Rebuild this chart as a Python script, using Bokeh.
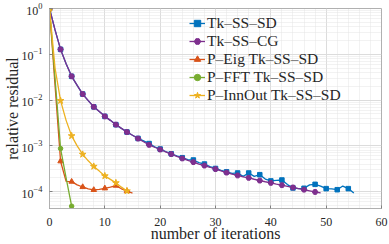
from bokeh.plotting import figure
from bokeh.models import (Range1d, FixedTicker, SingleIntervalTicker, LogTickFormatter,
                          Legend, LegendItem)
from bokeh.embed import file_html
from bokeh.resources import INLINE

# ---- data ----
it_sd = list(range(0, 56))
res_sd = [1, 0.34, 0.128, 0.062, 0.033, 0.021, 0.0135, 0.0097, 0.0071, 0.0056,
          0.0044, 0.0036, 0.0029, 0.0024, 0.0020, 0.0017, 0.00145, 0.00128, 0.00112, 0.00095,
          0.00085, 0.00075, 0.00067, 0.0006, 0.00055, 0.0005, 0.00049, 0.00043, 0.0004, 0.00035,
          0.00032, 0.00029, 0.00027, 0.00025, 0.000255, 0.000215, 0.000255, 0.000215, 0.000234, 0.000188,
          0.000171, 0.000176, 0.000179, 0.000142, 0.00012, 0.000116, 0.000118, 0.00014, 0.000144, 0.000132,
          0.000116, 0.000115, 0.00011, 0.000132, 0.000116, 0.000093]

it_cg = list(range(0, 50))
res_cg = [1, 0.34, 0.128, 0.062, 0.033, 0.021, 0.0135, 0.0097, 0.0071, 0.0056,
          0.0044, 0.0036, 0.0029, 0.0024, 0.0020, 0.0017, 0.00144, 0.00123, 0.00105, 0.00093,
          0.00083, 0.00074, 0.00066, 0.00059, 0.00053, 0.00048, 0.00044, 0.00040, 0.00037, 0.00034,
          0.00031, 0.000285, 0.00026, 0.00024, 0.000225, 0.00021, 0.00020, 0.000186, 0.000174, 0.000164,
          0.000155, 0.000146, 0.000138, 0.00013, 0.000123, 0.000116, 0.00011, 0.000104, 0.000098, 0.000094]

it_eig = list(range(0, 16))
res_eig = [1, 0.021, 4.6e-4, 1.67e-4, 1.65e-4, 1.4e-4, 1.26e-4, 1.15e-4, 1.09e-4, 1.12e-4,
           1.18e-4, 1.25e-4, 1.35e-4, 1.15e-4, 1.03e-4, 9.3e-5]

it_fft = list(range(0, 5))
res_fft = [1, 0.03, 8.7e-4, 2.0e-4, 4.8e-5]

it_io = list(range(0, 15))
res_io = [1, 0.05, 9.7e-3, 3.6e-3, 1.65e-3, 1.0e-3, 6.5e-4, 4.7e-4, 3.55e-4, 2.8e-4,
          2.2e-4, 1.85e-4, 1.55e-4, 1.25e-4, 1.03e-4]

names = ["Tk\u2013SS\u2013SD", "Tk\u2013SS\u2013CG", "P\u2013Eig Tk\u2013SS\u2013SD",
         "P\u2013FFT Tk\u2013SS\u2013SD", "P\u2013InnOut Tk\u2013SS\u2013SD"]
colors = ["#0072BD", "#7E2F8E", "#D95319", "#77AC30", "#EDB120"]
markers = ["square", "hex", "triangle", "circle", "star"]
msizes = [4.5, 5.5, 5.5, 4.5, 7]
x_ticks = [0, 10, 20, 30, 40, 50, 60]
y_ticks = [1e-4, 1e-3, 1e-2, 1e-1, 1]

FONT = "Liberation Serif"

p = figure(width=389, height=244, output_backend="svg", toolbar_location=None,
           y_axis_type="log", x_range=Range1d(0, 60), y_range=Range1d(4.27e-5, 1),
           min_border_left=48, min_border_right=8, min_border_top=8, min_border_bottom=35)
p.background_fill_color = "white"
p.border_fill_color = "white"
p.outline_line_color = "#b0b0b0"
p.outline_line_width = 1

p.xaxis.ticker = SingleIntervalTicker(interval=10, num_minor_ticks=5)
minor_y = [m * 10.0 ** e for e in range(-5, 0) for m in range(2, 10)]
p.yaxis.ticker = FixedTicker(ticks=y_ticks, minor_ticks=minor_y)
p.yaxis.formatter = LogTickFormatter()

for ax in (p.xaxis, p.yaxis):
    ax.axis_line_color = "#b0b0b0"
    ax.major_tick_line_color = "#808080"
    ax.minor_tick_line_color = None
    ax.major_tick_in = 3
    ax.major_tick_out = 0
    ax.major_label_text_font = FONT
    ax.major_label_text_font_size = "12px"
    ax.major_label_text_color = "#262626"
    ax.axis_label_text_font = FONT
    ax.axis_label_text_font_size = "16px"
    ax.axis_label_text_font_style = "normal"
    ax.axis_label_text_color = "#262626"

p.xaxis.axis_label = "number of iterations"
p.yaxis.axis_label = "relative residual"
p.xaxis.major_label_standoff = 5
p.xaxis.axis_label_standoff = -4
p.yaxis.major_label_standoff = 3
p.yaxis.axis_label_standoff = -2

p.xgrid.grid_line_color = "#dcdcdc"
p.ygrid.grid_line_color = "#dcdcdc"
p.xgrid.minor_grid_line_color = "#e4e4e4"
p.ygrid.minor_grid_line_color = "#e4e4e4"
p.xgrid.minor_grid_line_dash = "1 1"
p.ygrid.minor_grid_line_dash = "1 1"

series = [(it_sd, res_sd), (it_cg, res_cg), (it_eig, res_eig), (it_fft, res_fft), (it_io, res_io)]
items = []
for (xs, ys), name, c, mk, ms in zip(series, names, colors, markers, msizes):
    l = p.line(xs, ys, line_color=c, line_width=1.3)
    s = p.scatter(xs[::2], ys[::2], marker=mk, size=ms, fill_color=c, line_color=c)
    items.append(LegendItem(label=name, renderers=[l, s]))

legend = Legend(items=items, location="top_left", padding=0, margin=0, spacing=0,
                glyph_width=16, glyph_height=18, label_height=18, label_standoff=2,
                label_text_font=FONT, label_text_font_size="15.5px", label_text_color="#262626",
                border_line_color=None, background_fill_alpha=0)
legend.location = (140, 104)
p.add_layout(legend)

open("out.html", "w").write(file_html(p, INLINE))
